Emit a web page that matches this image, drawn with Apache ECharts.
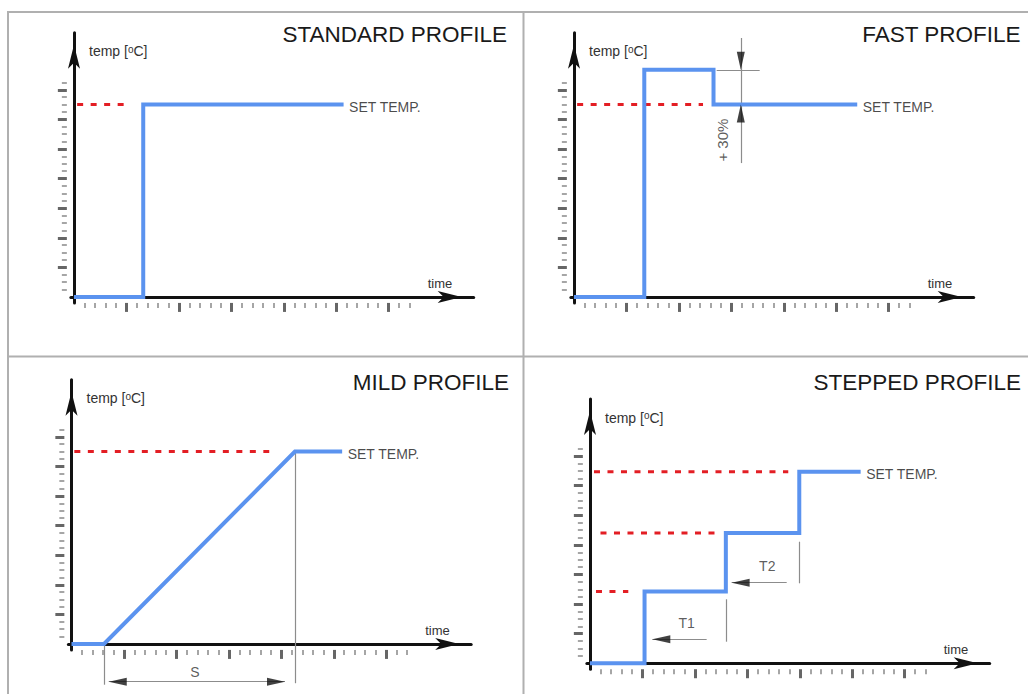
<!DOCTYPE html>
<html><head><meta charset="utf-8">
<script src="https://cdn.jsdelivr.net/npm/echarts@6/dist/echarts.min.js"></script>
<style>html,body{margin:0;padding:0;background:#fff}#c{width:1028px;height:694px}</style>
</head><body><div id="c"></div>
<script>
// ---------------- data (units: x = time ruler steps, y = temperature ruler steps) ----------------
const panelTitles = ['STANDARD PROFILE', 'FAST PROFILE', 'MILD PROFILE', 'STEPPED PROFILE'];
const yAxisName = 'temp [{sup|o}C]';
const xAxisName = 'time';
const setTempLabel = 'SET TEMP.';

const xMajorTicks = [5, 10, 15, 20, 25, 30];
const xMinorTicks = [1, 2, 3, 4, 6, 7, 8, 9, 11, 12, 13, 14, 16, 17, 18, 19, 21, 22, 23, 24, 26, 27, 28, 29, 31, 32];
const yMajorTicks = [4, 8, 12, 16, 20, 24, 28];
const yMinorTicks = [1, 2, 3, 5, 6, 7, 9, 10, 11, 13, 14, 15, 17, 18, 19, 21, 22, 23, 25, 26, 27, 29];

// STANDARD
const stdProfile = [[0, 0], [6.6, 0], [6.6, 26], [25.7, 26]];
const stdSetLines = [[[0.3, 26], [4.8, 26]]];
const stdGuides = [];
const stdArrows = [];
const stdNotes = [];
// FAST
const fastProfile = [[0, 0], [6.7, 0], [6.7, 30.7], [13.3, 30.7], [13.3, 26], [27, 26]];
const fastSetLines = [[[0.3, 26], [12.3, 26]]];
const fastGuides = [[[13.6, 30.7], [17.7, 30.7]], [[15.9, 35.0], [15.9, 18.1]]];
const fastArrows = [[15.9, 30.7, 'down'], [15.9, 26, 'up']];
const fastNotes = [[14.2, 21.2, '+ 30%', 90]];
// MILD
const mildProfile = [[0, 0], [3.1, 0], [21.3, 26], [25.8, 26]];
const mildSetLines = [[[0.27, 26], [18.85, 26]]];
const mildGuides = [[[21.3, 26], [21.3, -5.3]], [[3.1, 0], [3.1, -5.5]], [[3.55, -5.1], [20.35, -5.1]]];
const mildArrows = [[3.55, -5.1, 'left'], [20.35, -5.1, 'right']];
const mildNotes = [[11.77, -3.74, 'S', 0]];
// STEPPED
const stepProfile = [[0, 0], [5.2, 0], [5.2, 9.7], [12.95, 9.7], [12.95, 17.6], [19.95, 17.6], [19.95, 25.9], [25.8, 25.9]];
const stepSetLines = [[[0.38, 25.9], [18.9, 25.9]], [[1.0, 17.6], [12.1, 17.6]], [[0.57, 9.7], [3.65, 9.7]]];
const stepGuides = [[[12.95, 8.65], [12.95, 2.92]], [[19.95, 16.43], [19.95, 10.81]], [[11.12, 3.24], [5.94, 3.24]], [[18.75, 10.89], [13.5, 10.89]]];
const stepArrows = [[5.94, 3.24, 'left'], [13.5, 10.89, 'left']];
const stepNotes = [[9.22, 5.49, 'T1', 0], [16.9, 13.15, 'T2', 0]];

const panels = [
  { profile: stdProfile, setLines: stdSetLines, guides: stdGuides, arrows: stdArrows, notes: stdNotes },
  { profile: fastProfile, setLines: fastSetLines, guides: fastGuides, arrows: fastArrows, notes: fastNotes },
  { profile: mildProfile, setLines: mildSetLines, guides: mildGuides, arrows: mildArrows, notes: mildNotes },
  { profile: stepProfile, setLines: stepSetLines, guides: stepGuides, arrows: stepArrows, notes: stepNotes }
];

// ---------------- layout / style ----------------
const UX = 10.49, UY = 7.4;
const XMIN = -0.3, XMAX = 38.1, YMIN = -0.8, YMAX = 35.7;
const origins = [[74, 297], [574, 297], [71.5, 644], [590, 663.3]];
const titleRight = [507, 1021, 509, 1021];
const titleMidY = [35, 35, 383, 383];
const FONT = '"Liberation Sans", Arial, Helvetica, sans-serif';
const BLUE = '#5b93ef', RED = '#e31e24', AXIS = '#111', GUIDE = '#8c8c8c';
const ARROW_LEN = 18, ARROW_W = 8;
const dirRot = { up: 0, down: 180, left: 90, right: -90 };
const dirOff = { up: [0, ARROW_LEN / 2], down: [0, -ARROW_LEN / 2], left: [ARROW_LEN / 2, 0], right: [-ARROW_LEN / 2, 0] };

const grids = [], xAxes = [], yAxes = [], series = [], titles = [];

panels.forEach((p, i) => {
  const [ox, oy] = origins[i];
  grids.push({
    left: ox + XMIN * UX, top: oy - YMAX * UY,
    width: (XMAX - XMIN) * UX, height: (YMAX - YMIN) * UY,
    containLabel: false, outerBoundsMode: 'none'
  });
  const hiddenBase = { gridIndex: i, type: 'value', min: XMIN, max: XMAX, axisLabel: { show: false }, splitLine: { show: false } };
  xAxes.push(Object.assign({}, hiddenBase, {
    position: 'bottom',
    axisLine: { show: true, onZero: true, lineStyle: { color: AXIS, width: 3 }, symbol: ['none', 'arrow'], symbolSize: [9, 24], symbolOffset: [0, -12] },
    axisTick: { show: false },
    name: xAxisName, nameLocation: 'end', nameGap: -46, nameMoveOverlap: false,
    nameTextStyle: { align: 'left', verticalAlign: 'bottom', padding: [0, 0, 7, 0], fontSize: 13, color: '#333', fontFamily: FONT }
  }));
  xAxes.push(Object.assign({}, hiddenBase, {
    position: 'bottom', axisLine: { show: false, onZero: false },
    axisTick: { show: true, customValues: xMajorTicks, length: 9, lineStyle: { color: '#666', width: 3 } }
  }));
  xAxes.push(Object.assign({}, hiddenBase, {
    position: 'bottom', axisLine: { show: false, onZero: false },
    axisTick: { show: true, customValues: xMinorTicks, length: 5, lineStyle: { color: '#888', width: 1.5 } }
  }));
  const yBase = { gridIndex: i, type: 'value', min: YMIN, max: YMAX, axisLabel: { show: false }, splitLine: { show: false } };
  yAxes.push(Object.assign({}, yBase, {
    position: 'left',
    axisLine: { show: true, onZero: true, lineStyle: { color: AXIS, width: 3 }, symbol: ['none', 'arrow'], symbolSize: [9, 24], symbolOffset: [0, -12] },
    axisTick: { show: false },
    name: yAxisName, nameLocation: 'end', nameGap: -18.5, nameMoveOverlap: false,
    nameTextStyle: {
      align: 'left', verticalAlign: 'middle', padding: [0, 0, 0, 15], fontSize: 14, color: '#333', fontFamily: FONT,
      rich: { sup: { fontSize: 10, verticalAlign: 'top', color: '#333', fontFamily: FONT } }
    }
  }));
  yAxes.push(Object.assign({}, yBase, {
    position: 'left', offset: 4, axisLine: { show: false, onZero: false },
    axisTick: { show: true, customValues: yMajorTicks, length: 9, lineStyle: { color: '#666', width: 3 } }
  }));
  yAxes.push(Object.assign({}, yBase, {
    position: 'left', offset: 4, axisLine: { show: false, onZero: false },
    axisTick: { show: true, customValues: yMinorTicks, length: 5, lineStyle: { color: '#888', width: 1.5 } }
  }));

  const xi = 3 * i, yi = 3 * i;
  p.setLines.forEach(seg => {
    series.push({
      type: 'line', xAxisIndex: xi, yAxisIndex: yi, data: seg, symbol: 'none', clip: false, silent: true, z: 2,
      lineStyle: { color: RED, width: 3, type: [6, 7.5], cap: 'butt' }
    });
  });
  series.push({
    type: 'line', xAxisIndex: xi, yAxisIndex: yi, data: p.profile, symbol: 'none', clip: false, silent: true, z: 3,
    lineStyle: { color: BLUE, width: 4, join: 'miter', cap: 'butt' }
  });
  series.push({
    type: 'scatter', xAxisIndex: xi, yAxisIndex: yi, data: [p.profile[p.profile.length - 1]],
    symbolSize: 1, itemStyle: { color: 'rgba(0,0,0,0)' }, clip: false, silent: true, z: 4,
    label: { show: true, position: 'right', distance: 5, formatter: setTempLabel, fontSize: 14, color: '#1a1a1a', fontFamily: FONT, offset: [0, 2] }
  });
  if (p.guides.length) {
    series.push({
      type: 'lines', coordinateSystem: 'cartesian2d', xAxisIndex: xi, yAxisIndex: yi, clip: false, silent: true, z: 2,
      data: p.guides.map(c => ({ coords: c })), symbol: 'none',
      lineStyle: { color: GUIDE, width: 1.2, opacity: 1, curveness: 0 }
    });
  }
  if (p.arrows.length) {
    series.push({
      type: 'scatter', xAxisIndex: xi, yAxisIndex: yi, clip: false, silent: true, z: 5,
      symbol: 'triangle', symbolSize: [ARROW_W, ARROW_LEN], itemStyle: { color: AXIS },
      data: p.arrows.map(a => ({ value: [a[0], a[1]], symbolRotate: dirRot[a[2]], symbolOffset: dirOff[a[2]] }))
    });
  }
  if (p.notes.length) {
    series.push({
      type: 'scatter', xAxisIndex: xi, yAxisIndex: yi, clip: false, silent: true, z: 5,
      symbolSize: 1, itemStyle: { color: 'rgba(0,0,0,0)' },
      data: p.notes.map(n => ({
        value: [n[0], n[1]], name: n[2],
        label: { show: true, position: 'inside', formatter: '{b}', rotate: n[3], fontSize: n[3] ? 15 : 14, color: '#333', fontFamily: FONT }
      }))
    });
  }
  titles.push({
    text: panelTitles[i], right: 1028 - titleRight[i], top: titleMidY[i] - 12, padding: 0,
    textStyle: { fontSize: 22.5, fontWeight: 'normal', color: '#1a1a1a', fontFamily: FONT }
  });
});

const chart = echarts.init(document.getElementById('c'), null, { renderer: 'svg', width: 1028, height: 694 });
chart.setOption({
  animation: false,
  backgroundColor: '#fff',
  title: titles,
  grid: grids,
  xAxis: xAxes,
  yAxis: yAxes,
  series: series,
  graphic: [
    { type: 'rect', shape: { x: 8, y: 12, width: 1040, height: 720 }, style: { fill: 'none', stroke: '#b0b0b0', lineWidth: 2 }, silent: true },
    { type: 'line', shape: { x1: 523.5, y1: 12, x2: 523.5, y2: 720 }, style: { stroke: '#b0b0b0', lineWidth: 2 }, silent: true },
    { type: 'line', shape: { x1: 8, y1: 356.5, x2: 1040, y2: 356.5 }, style: { stroke: '#b0b0b0', lineWidth: 2 }, silent: true }
  ]
});
</script>
</body></html>
